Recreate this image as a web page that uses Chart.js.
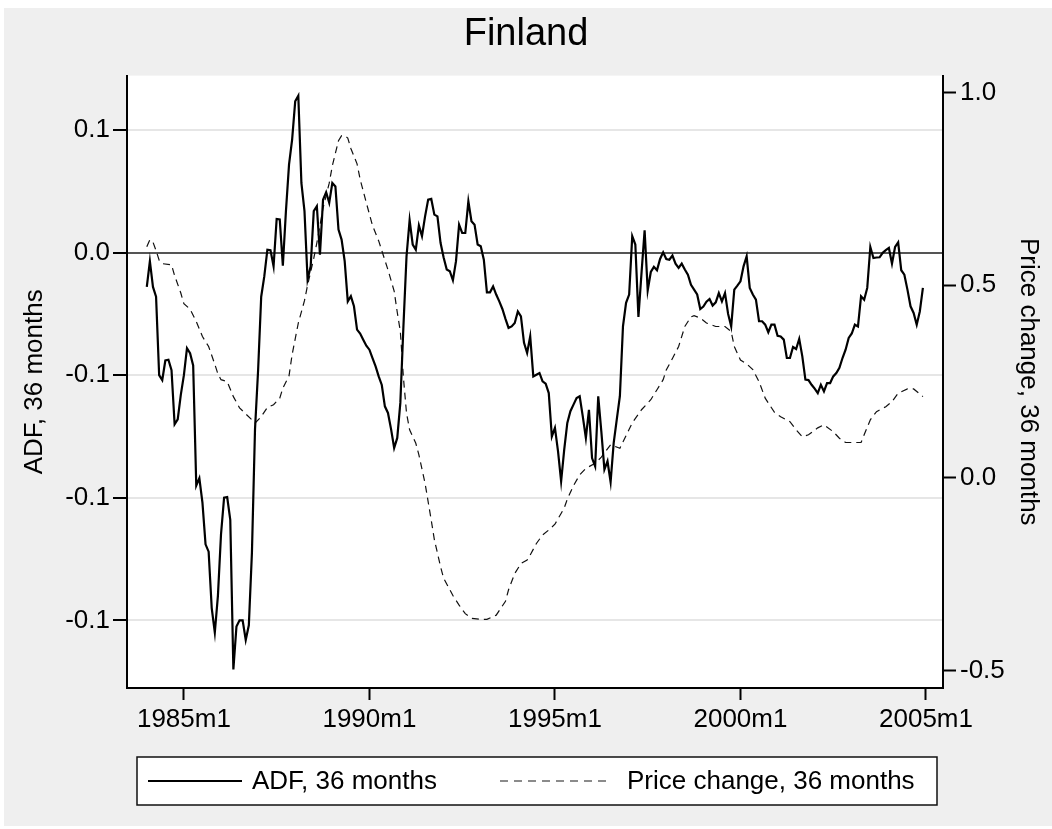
<!DOCTYPE html>
<html>
<head>
<meta charset="utf-8">
<script src="https://cdn.jsdelivr.net/npm/chart.js@4.4.1/dist/chart.umd.min.js"></script>
<style>
  html, body { margin: 0; padding: 0; background: #fff; }
  #wrap { width: 1052px; height: 829px; }
</style>
</head>
<body>
<div id="wrap"><canvas id="chart" width="1052" height="829"></canvas></div>
<script>
// months are Stata %tm numbers (1960m1 = 0), 288 = 1984m1
const adfStart = 288;
// ADF, 36 months: one value per month, 1984m1 .. 2004m12
const adfValues = [
  -0.014, -0.0035, -0.014, -0.018, -0.050, -0.052, -0.044, -0.0437, -0.048, -0.070, -0.068, -0.058,
  -0.050, -0.039, -0.041, -0.046, -0.095, -0.092, -0.102, -0.119, -0.122, -0.145, -0.155, -0.140,
  -0.115, -0.100, -0.0997, -0.109, -0.170, -0.1525, -0.150, -0.150, -0.158, -0.152, -0.1225, -0.072,
  -0.048, -0.018, -0.0097, 0.0012, 0.001, -0.0056, 0.0137, 0.0135, -0.0053, 0.0169, 0.0359, 0.0461,
  0.0617, 0.064, 0.0284, 0.0169, -0.011, -0.0056, 0.0169, 0.0189, -0.0008, 0.0216, 0.0246, 0.0203,
  0.0284, 0.027, 0.0094, 0.0053, -0.0035, -0.0199, -0.0178, -0.0219, -0.0314, -0.033, -0.0355, -0.038,
  -0.0396, -0.043, -0.0464, -0.0505, -0.054, -0.0627, -0.0654, -0.072, -0.0797, -0.0756, -0.0613, -0.030,
  -0.0015, 0.0132, 0.0033, 0.0012, 0.0111, 0.0067, 0.0148, 0.0216, 0.0219, 0.0155, 0.0148, 0.004,
  -0.002, -0.0069, -0.0076, -0.0113, -0.0035, 0.0114, 0.008, 0.008, 0.0209, 0.0128, 0.0114, 0.0033,
  0.0026, -0.0029, -0.0162, -0.0162, -0.0138, -0.0171, -0.0199, -0.023, -0.027, -0.0307, -0.0301, -0.0287,
  -0.024, -0.026, -0.0368, -0.0409, -0.0342, -0.0505, -0.0498, -0.0491, -0.0525, -0.0535, -0.0573, -0.075,
  -0.0715, -0.0811, -0.0933, -0.0804, -0.0695, -0.0647, -0.062, -0.0593, -0.0586, -0.0668, -0.0756, -0.0641,
  -0.0838, -0.0872, -0.0586, -0.0729, -0.0885, -0.0851, -0.0936, -0.0776, -0.068, -0.0586, -0.0301, -0.0205,
  -0.0171, 0.0067, 0.0033, -0.0262, -0.0083, 0.0091, -0.0154, -0.0079, -0.0058, -0.0072, -0.0026, 0.0001,
  -0.0026, -0.0029, -0.0012, -0.0045, -0.0062, -0.0045, -0.0069, -0.009, -0.0131, -0.0151, -0.0171, -0.023,
  -0.022, -0.020, -0.0189, -0.0216, -0.0203, -0.0165, -0.0199, -0.0165, -0.025, -0.0301, -0.0151, -0.0135,
  -0.0117, -0.0056, -0.0015, -0.0144, -0.0171, -0.0192, -0.028, -0.028, -0.0294, -0.0325, -0.0294, -0.0294,
  -0.0339, -0.0342, -0.0355, -0.043, -0.043, -0.0385, -0.0393, -0.0352, -0.0423, -0.0518, -0.052, -0.0539,
  -0.0555, -0.0573, -0.0539, -0.0566, -0.0532, -0.0532, -0.0505, -0.0491, -0.047, -0.043, -0.0396, -0.0348,
  -0.033, -0.0294, -0.0301, -0.0178, -0.0192, -0.0144, 0.0023, -0.0022, -0.002, -0.0019, -0.0001, 0.001,
  0.0019, -0.0045, 0.0023, 0.0042, -0.0072, -0.009, -0.0151, -0.0219, -0.0246, -0.0294, -0.024, -0.0144
];

// Price change, 36 months (right axis), read at the months below
const priceMonths = [
  288, 289, 290, 291, 292, 293, 296, 297, 299, 300, 302, 304, 306, 308, 310, 311, 312, 314, 316, 318,
  320, 322, 323, 325, 327, 329, 331, 332, 334, 335, 337, 339, 340, 342, 343, 345, 347, 348, 350, 351,
  352, 353, 354, 356, 357, 359, 361, 363, 364, 366, 368, 369, 370, 371, 372, 373, 375, 376, 378, 380,
  381, 383, 384, 387, 389, 391, 393, 396, 398, 401, 404, 405, 407, 409, 411, 412, 414, 416, 418, 420,
  423, 424, 426, 428, 430, 433, 435, 438, 441, 443, 445, 448, 451, 453, 455, 456, 458, 460, 462, 464,
  465, 467, 469, 472, 475, 477, 478, 480, 482, 484, 486, 488, 491, 493, 496, 498, 500, 502, 505, 507,
  510, 512, 514, 519, 520, 522, 524, 527, 529, 531, 534, 536, 539
];
const priceValues = [
  0.60, 0.618, 0.612, 0.59, 0.565, 0.556, 0.553, 0.525, 0.48, 0.452, 0.438, 0.406, 0.367, 0.341, 0.295, 0.27, 0.255, 0.25, 0.211, 0.182,
  0.166, 0.151, 0.142, 0.159, 0.183, 0.19, 0.207, 0.233, 0.265, 0.32, 0.402, 0.46, 0.50, 0.57, 0.61, 0.70, 0.765, 0.81, 0.875, 0.888,
  0.888, 0.882, 0.855, 0.815, 0.775, 0.714, 0.655, 0.615, 0.59, 0.54, 0.485, 0.43, 0.38, 0.26, 0.168, 0.125, 0.09, 0.06, -0.014, -0.11,
  -0.16, -0.23, -0.26, -0.305, -0.33, -0.352, -0.364, -0.367, -0.367, -0.356, -0.32, -0.29, -0.248, -0.222, -0.213, -0.2, -0.17, -0.148, -0.135, -0.12,
  -0.078, -0.055, -0.02, 0.008, 0.025, 0.038, 0.054, 0.086, 0.077, 0.11, 0.143, 0.177, 0.203, 0.229, 0.255, 0.28, 0.31, 0.341, 0.393, 0.418,
  0.421, 0.415, 0.402, 0.393, 0.393, 0.38, 0.341, 0.306, 0.296, 0.281, 0.25, 0.207, 0.17, 0.159, 0.146, 0.125, 0.107, 0.112, 0.13, 0.138,
  0.12, 0.103, 0.092, 0.092, 0.112, 0.151, 0.172, 0.185, 0.198, 0.22, 0.231, 0.231, 0.211
];

// axis ticks
const xTickMonths = [300, 360, 420, 480, 540];
const xTickLabels = ['1985m1', '1990m1', '1995m1', '2000m1', '2005m1'];
const adfTickValues = [0.05, 0, -0.05, -0.1, -0.15];
const adfTickLabels = ['0.1', '0.0', '-0.1', '-0.1', '-0.1'];
const priceTickValues = [1.0, 0.5, 0, -0.5];
const priceTickLabels = ['1.0', '0.5', '0.0', '-0.5'];

const FONT = "'Liberation Sans', Arial, sans-serif";

// gray graph region + white plot region
const backdrop = {
  id: 'backdrop',
  beforeDraw(chart) {
    const c = chart.ctx, a = chart.chartArea;
    c.save();
    c.fillStyle = '#ffffff';
    c.fillRect(0, 0, chart.width, chart.height);
    c.fillStyle = '#efefef';
    c.fillRect(4, 8, chart.width - 4, chart.height - 11);
    c.fillStyle = '#ffffff';
    c.fillRect(a.left, a.top, a.right - a.left, a.bottom - a.top);
    c.restore();
  }
};

// Stata-like boxed legend under the plot
const boxLegend = {
  id: 'boxLegend',
  afterDraw(chart) {
    const c = chart.ctx, a = chart.chartArea;
    const top = a.bottom + 69, h = 48, left = 137, w = 800;
    const mid = top + h / 2;
    c.save();
    c.fillStyle = '#ffffff';
    c.fillRect(left, top, w, h);
    c.strokeStyle = '#111';
    c.lineWidth = 1.5;
    c.strokeRect(left, top, w, h);
    c.font = '26px ' + FONT;
    c.fillStyle = '#000';
    c.textBaseline = 'middle';
    const ds = chart.data.datasets;
    // solid sample
    c.beginPath();
    c.lineWidth = 2;
    c.strokeStyle = '#000';
    c.setLineDash([]);
    c.moveTo(148, mid); c.lineTo(242, mid);
    c.stroke();
    c.fillText(ds[0].label, 252, mid + 1);
    // dashed sample
    c.beginPath();
    c.lineWidth = 1.3;
    c.strokeStyle = '#666';
    c.setLineDash([8, 6]);
    c.moveTo(500, mid); c.lineTo(610, mid);
    c.stroke();
    c.setLineDash([]);
    c.fillText(ds[1].label, 627, mid + 1);
    c.restore();
  }
};

const ctx = document.getElementById('chart').getContext('2d');
new Chart(ctx, {
  type: 'line',
  data: {
    datasets: [{
      label: 'ADF, 36 months',
      data: adfValues.map((v, i) => ({ x: adfStart + i, y: v })),
      yAxisID: 'y',
      borderColor: '#000',
      borderWidth: 2.2,
      pointRadius: 0,
      tension: 0
    }, {
      label: 'Price change, 36 months',
      data: priceMonths.map((m, i) => ({ x: m, y: priceValues[i] })),
      yAxisID: 'y1',
      borderColor: '#111',
      borderWidth: 1.2,
      borderDash: [7, 5],
      pointRadius: 0,
      tension: 0
    }]
  },
  options: {
    responsive: false,
    animation: false,
    layout: { padding: { left: 0, right: 0, top: 0, bottom: 81 } },
    plugins: {
      legend: { display: false },
      tooltip: { enabled: false },
      title: {
        display: true,
        text: 'Finland',
        color: '#000',
        font: { family: FONT, size: 38, weight: 'normal' },
        padding: { top: 12, bottom: 18 }
      }
    },
    scales: {
      x: {
        type: 'linear',
        min: 281.6,
        max: 545.5,
        afterBuildTicks: s => { s.ticks = xTickMonths.map(v => ({ value: v })); },
        afterFit: s => { s.height = 60; },
        ticks: {
          autoSkip: false,
          maxRotation: 0,
          color: '#000',
          padding: 4,
          font: { family: FONT, size: 26 },
          callback: (v, i) => xTickLabels[i]
        },
        grid: { drawOnChartArea: false, tickLength: 12, tickColor: '#000', tickWidth: 2 },
        border: { display: true, color: '#000', width: 2 }
      },
      y: {
        type: 'linear',
        position: 'left',
        min: -0.1776,
        max: 0.0722,
        afterBuildTicks: s => { s.ticks = adfTickValues.map(v => ({ value: v })); },
        afterFit: s => { s.width = 127; },
        ticks: {
          autoSkip: false,
          color: '#000',
          padding: 3,
          font: { family: FONT, size: 26 },
          callback: (v, i) => adfTickLabels[i]
        },
        grid: {
          color: c => (c.tick && c.tick.value === 0 ? '#555555' : '#e6e6e6'),
          lineWidth: 2,
          tickLength: 14,
          tickColor: '#000',
          tickWidth: 2
        },
        border: { display: true, color: '#000', width: 2 },
        title: {
          display: true,
          text: 'ADF, 36 months',
          color: '#000',
          font: { family: FONT, size: 26 },
          padding: { top: 19, bottom: 0 }
        }
      },
      y1: {
        type: 'linear',
        position: 'right',
        min: -0.545,
        max: 1.044,
        afterBuildTicks: s => { s.ticks = priceTickValues.map(v => ({ value: v })); },
        afterFit: s => { s.width = 109; },
        ticks: {
          autoSkip: false,
          color: '#000',
          padding: 4,
          font: { family: FONT, size: 26 },
          callback: (v, i) => priceTickLabels[i]
        },
        grid: { drawOnChartArea: false, tickLength: 13, tickColor: '#000', tickWidth: 2 },
        border: { display: true, color: '#000', width: 2 },
        title: {
          display: true,
          text: 'Price change, 36 months',
          color: '#000',
          font: { family: FONT, size: 26 },
          padding: { top: 8, bottom: 0 }
        }
      }
    }
  },
  plugins: [backdrop, boxLegend]
});
</script>
</body>
</html>
